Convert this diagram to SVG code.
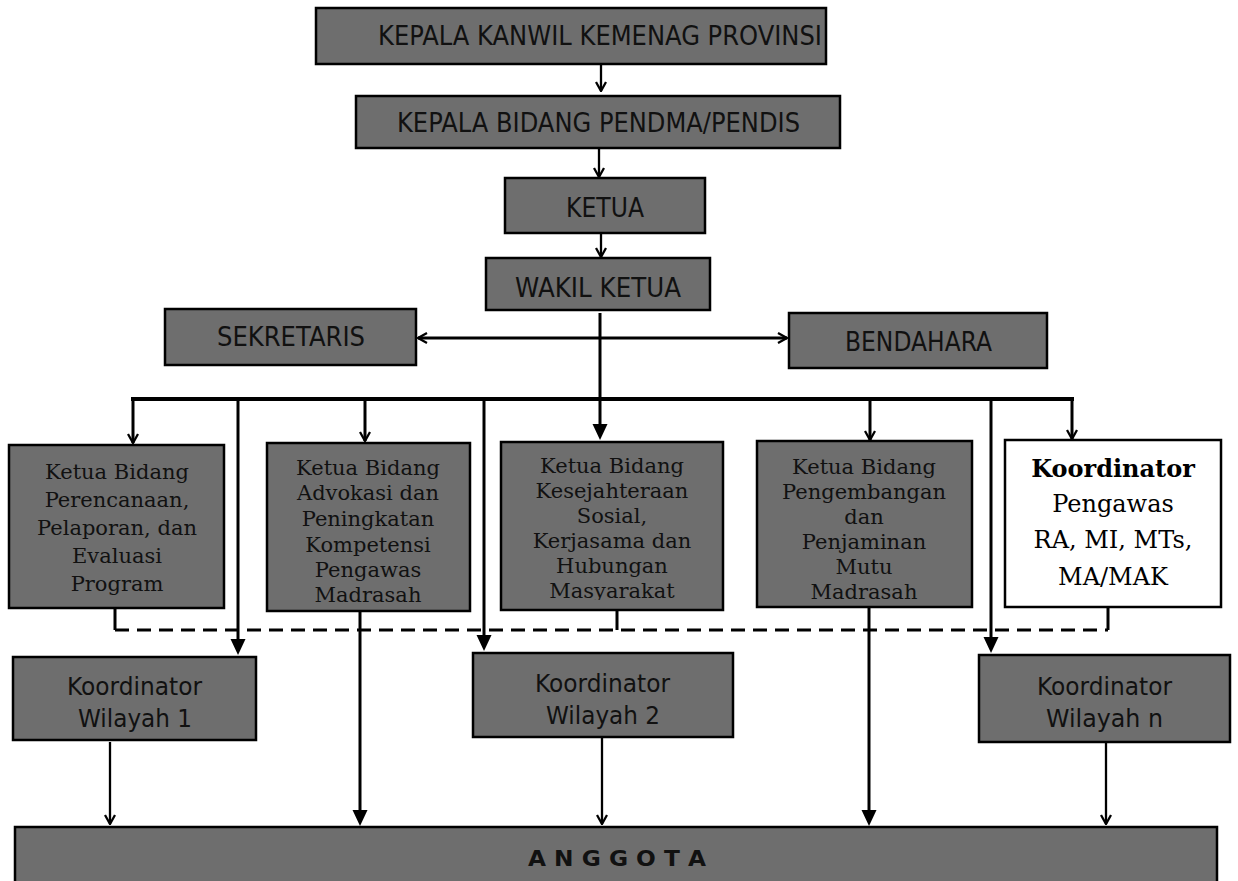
<svg xmlns="http://www.w3.org/2000/svg" width="1238" height="881" viewBox="0 0 1238 881">
<style>
.box{fill:#6e6e6e;stroke:#000;stroke-width:2.5}
.wbox{fill:#fff;stroke:#000;stroke-width:2.5}
.sans{font-family:"DejaVu Sans","Liberation Sans",sans-serif;font-size:26px;fill:#111}
.wil{font-family:"DejaVu Sans","Liberation Sans",sans-serif;font-size:24px;fill:#111}
.serif{font-family:"DejaVu Serif","Liberation Serif",serif;font-size:21px;fill:#111;text-anchor:middle}
.serifL{font-family:"DejaVu Serif","Liberation Serif",serif;font-size:24px;fill:#000;text-anchor:middle}
.ln{fill:none;stroke:#000;stroke-width:3}
.thin{fill:none;stroke:#000;stroke-width:2.3}
.dash{fill:none;stroke:#000;stroke-width:3;stroke-dasharray:14 8}
</style>
<defs>
<marker id="open" viewBox="0 0 12 12" refX="11" refY="6" markerWidth="12" markerHeight="12" markerUnits="userSpaceOnUse" orient="auto-start-reverse">
<path d="M2,1 L11,6 L2,11" fill="none" stroke="#000" stroke-width="2.3"/>
</marker>
<marker id="fill" viewBox="0 0 16 16" refX="8" refY="8" markerWidth="16" markerHeight="16" markerUnits="userSpaceOnUse" orient="auto">
<path d="M0,0.5 L16,8 L0,15.5 z" fill="#000"/>
</marker>
<clipPath id="clipK"><rect x="501" y="442" width="222" height="158"/></clipPath>
<clipPath id="clipP"><rect x="757" y="441" width="215" height="159"/></clipPath>
</defs>

<g id="n-kanwil">
<rect class="box" x="316" y="8" width="510" height="56"/>
<text class="sans" x="378" y="45" textLength="444" lengthAdjust="spacingAndGlyphs">KEPALA KANWIL KEMENAG PROVINSI</text>
</g>
<g id="n-kabid">
<rect class="box" x="356" y="96" width="484" height="52"/>
<text class="sans" x="397" y="132" textLength="403" lengthAdjust="spacingAndGlyphs">KEPALA BIDANG PENDMA/PENDIS</text>
</g>
<g id="n-ketua">
<rect class="box" x="505" y="178" width="200" height="55"/>
<text class="sans" x="566" y="217" textLength="78" lengthAdjust="spacingAndGlyphs">KETUA</text>
</g>
<g id="n-wakil">
<rect class="box" x="486" y="258" width="224" height="52"/>
<text class="sans" x="515" y="297" textLength="166" lengthAdjust="spacingAndGlyphs">WAKIL KETUA</text>
</g>
<g id="n-sekretaris">
<rect class="box" x="165" y="309" width="251" height="56"/>
<text class="sans" x="217" y="346" textLength="148" lengthAdjust="spacingAndGlyphs">SEKRETARIS</text>
</g>
<g id="n-bendahara">
<rect class="box" x="789" y="313" width="258" height="55"/>
<text class="sans" x="845" y="351" textLength="147" lengthAdjust="spacingAndGlyphs">BENDAHARA</text>
</g>

<g id="n-perencanaan">
<rect class="box" x="9" y="445" width="215" height="163"/>
<text class="serif" x="117" y="479">Ketua Bidang</text>
<text class="serif" x="117" y="507">Perencanaan,</text>
<text class="serif" x="117" y="535">Pelaporan, dan</text>
<text class="serif" x="117" y="563">Evaluasi</text>
<text class="serif" x="117" y="591">Program</text>
</g>
<g id="n-advokasi">
<rect class="box" x="267" y="443" width="203" height="168"/>
<text class="serif" x="368" y="475">Ketua Bidang</text>
<text class="serif" x="368" y="500">Advokasi dan</text>
<text class="serif" x="368" y="526">Peningkatan</text>
<text class="serif" x="368" y="552">Kompetensi</text>
<text class="serif" x="368" y="577">Pengawas</text>
<text class="serif" x="368" y="602">Madrasah</text>
</g>
<g id="n-kesejahteraan">
<rect class="box" x="501" y="442" width="222" height="168"/>
<g clip-path="url(#clipK)">
<text class="serif" x="612" y="473">Ketua Bidang</text>
<text class="serif" x="612" y="498">Kesejahteraan</text>
<text class="serif" x="612" y="523">Sosial,</text>
<text class="serif" x="612" y="548">Kerjasama dan</text>
<text class="serif" x="612" y="573">Hubungan</text>
<text class="serif" x="612" y="598">Masyarakat</text>
</g>
</g>
<g id="n-pengembangan">
<rect class="box" x="757" y="441" width="215" height="166"/>
<g clip-path="url(#clipP)">
<text class="serif" x="864" y="474">Ketua Bidang</text>
<text class="serif" x="864" y="499">Pengembangan</text>
<text class="serif" x="864" y="524">dan</text>
<text class="serif" x="864" y="549">Penjaminan</text>
<text class="serif" x="864" y="574">Mutu</text>
<text class="serif" x="864" y="599">Madrasah</text>
</g>
</g>
<g id="n-koordinator">
<rect class="wbox" x="1005" y="440" width="216" height="167"/>
<text class="serifL" x="1113" y="477" font-weight="bold">Koordinator</text>
<text class="serifL" x="1113" y="512">Pengawas</text>
<text class="serifL" x="1113" y="548">RA, MI, MTs,</text>
<text class="serifL" x="1113" y="585">MA/MAK</text>
</g>

<g id="n-wilayah1">
<rect class="box" x="13" y="657" width="243" height="83"/>
<text class="wil" x="67" y="695" textLength="135" lengthAdjust="spacingAndGlyphs">Koordinator</text>
<text class="wil" x="78" y="727" textLength="114" lengthAdjust="spacingAndGlyphs">Wilayah 1</text>
</g>
<g id="n-wilayah2">
<rect class="box" x="473" y="653" width="260" height="84"/>
<text class="wil" x="535" y="692" textLength="135" lengthAdjust="spacingAndGlyphs">Koordinator</text>
<text class="wil" x="546" y="724" textLength="114" lengthAdjust="spacingAndGlyphs">Wilayah 2</text>
</g>
<g id="n-wilayahn">
<rect class="box" x="979" y="655" width="251" height="87"/>
<text class="wil" x="1037" y="695" textLength="135" lengthAdjust="spacingAndGlyphs">Koordinator</text>
<text class="wil" x="1046" y="727" textLength="117" lengthAdjust="spacingAndGlyphs">Wilayah n</text>
</g>
<g id="n-anggota">
<rect class="box" x="15" y="827" width="1202" height="70"/>
<text x="528" y="866" textLength="178" lengthAdjust="spacingAndGlyphs" style="font-family:'DejaVu Sans','Liberation Sans',sans-serif;font-size:22px;font-weight:bold;fill:#111">A N G G O T A</text>
</g>

<g id="connectors">
<path class="thin" d="M601,64 L601,91" marker-end="url(#open)"/>
<path class="thin" d="M599,148 L599,177" marker-end="url(#open)"/>
<path class="thin" d="M601,233 L601,257" marker-end="url(#open)"/>
<path class="ln" d="M418,338 L787,338" marker-start="url(#open)" marker-end="url(#open)"/>
<path class="ln" d="M600,313 L600,432" marker-end="url(#fill)"/>
<path class="ln" d="M131,399 L1074,399" style="stroke-width:4"/>
<path class="ln" d="M133,399 L133,443" marker-end="url(#open)"/>
<path class="ln" d="M365,399 L365,441" marker-end="url(#open)"/>
<path class="ln" d="M870,399 L870,440" marker-end="url(#open)"/>
<path class="ln" d="M1072,399 L1072,439" marker-end="url(#open)"/>
<path class="ln" d="M238,401 L238,647" marker-end="url(#fill)"/>
<path class="ln" d="M484,401 L484,643" marker-end="url(#fill)"/>
<path class="ln" d="M991,401 L991,645" marker-end="url(#fill)"/>
<path class="ln" d="M360,611 L360,818" marker-end="url(#fill)"/>
<path class="ln" d="M869,607 L869,818" marker-end="url(#fill)"/>
<path class="thin" d="M110,742 L110,824" marker-end="url(#open)"/>
<path class="thin" d="M602,738 L602,824" marker-end="url(#open)"/>
<path class="thin" d="M1106,743 L1106,824" marker-end="url(#open)"/>
<path class="ln" d="M115,608 L115,630 M617,610 L617,630 M1108,607 L1108,630"/>
<path class="dash" d="M115,630 L1108,630"/>
</g>
</svg>
